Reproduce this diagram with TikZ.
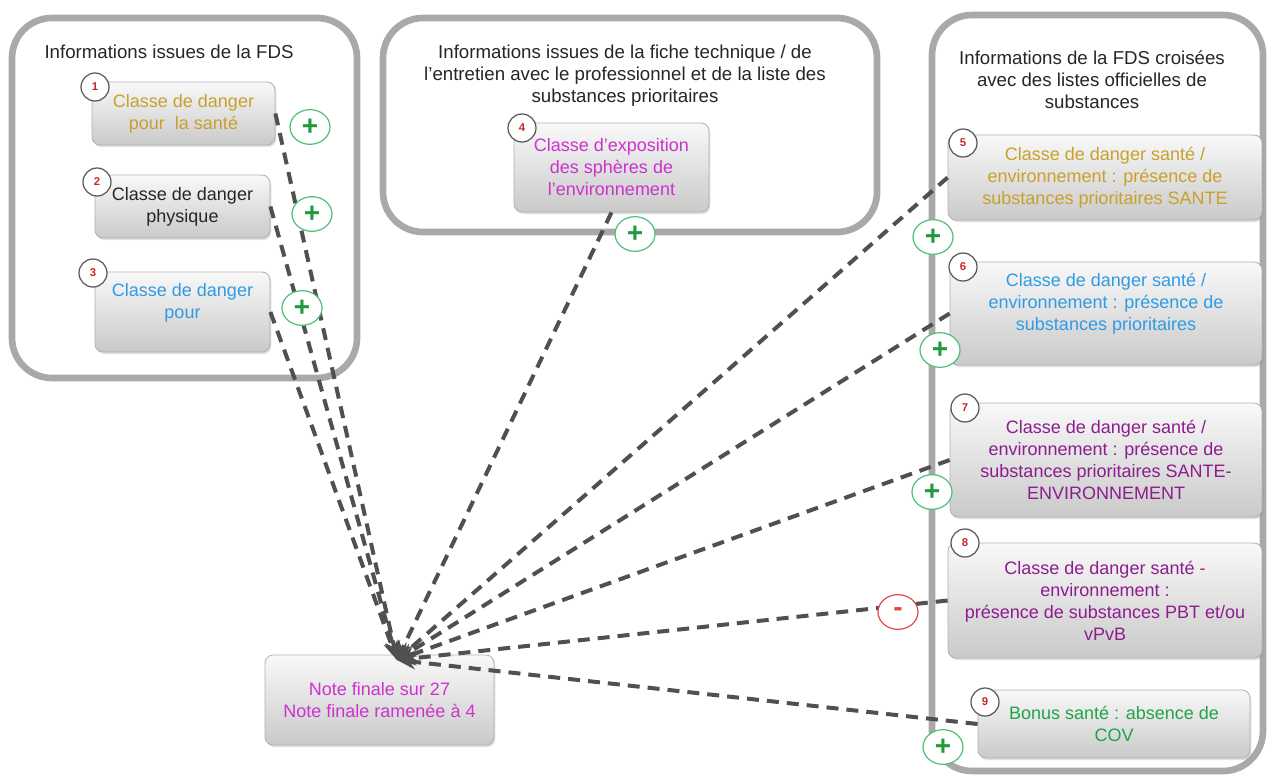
\documentclass[tikz,border=0pt]{standalone}
\usepackage{fontspec}
\setmainfont{Liberation Sans}
\usepackage{tikz}
\usetikzlibrary{arrows.meta,shapes.geometric,shadows}

\definecolor{panelgray}{HTML}{A9A9A9}
\definecolor{boxedge}{HTML}{B0B0B0}
\definecolor{linkgray}{HTML}{505050}
\definecolor{numedge}{HTML}{555555}
\definecolor{numred}{HTML}{C62828}
\definecolor{plusedge}{HTML}{4CBF7A}
\definecolor{plusgreen}{HTML}{1F9A3C}
\definecolor{minusred}{HTML}{E04848}
\definecolor{dgold}{HTML}{C8A12C}
\definecolor{dblue}{HTML}{2F9BE3}
\definecolor{dmagenta}{HTML}{CC33CC}
\definecolor{dpurple}{HTML}{8E1C8E}
\definecolor{dgreen}{HTML}{22A34A}

\tikzset{
  panel/.style={draw=panelgray, line width=5pt, rounded corners=30pt, fill=white},
  paneltitle/.style={align=center, font=\fontsize{14}{16.5}\selectfont, text=black!85},
  classbox/.style={draw=boxedge, line width=0.6pt, rounded corners=6pt, top color=gray!5, bottom color=gray!42,
    align=center, inner sep=2pt, font=\fontsize{13.5}{16.5}\selectfont,
    drop shadow={opacity=0.25, shadow xshift=1pt, shadow yshift=-1.5pt}},
  numtag/.style={circle, draw=numedge, line width=0.9pt, fill=white, minimum size=21pt, inner sep=0pt,
    font=\fontsize{8.5}{8.5}\selectfont\bfseries, text=numred},
  plustag/.style={ellipse, draw=plusedge, line width=0.9pt, fill=white, minimum width=30pt, minimum height=26pt,
    inner sep=0pt, font=\fontsize{21}{21}\selectfont\bfseries, text=plusgreen},
  minustag/.style={plustag, draw=minusred, text=minusred},
  link/.style={draw=linkgray, line width=3pt, dash pattern=on 9pt off 6pt, -{Stealth[length=14pt,width=11pt]}}
}

\begin{document}
\begin{tikzpicture}[x=0.75pt,y=0.75pt,yscale=-1,xscale=1]
\useasboundingbox (0,0) rectangle (1269,781);

% Panels
\draw [panel] (12,18) rectangle (357,378);
\draw [panel] (383,18) rectangle (877,232);
\draw [panel] (932,15) rectangle (1263,771);

% Panel titles
\node [paneltitle] (tfds) at (169,52) {Informations issues de la FDS};
\node [paneltitle] (tfiche) at (625,76) {Informations issues de la fiche technique / de\\l'entretien avec le professionnel et de la liste des\\substances prioritaires};
\node [paneltitle] (tlistes) at (1092,80) {Informations de la FDS crois\'ees\\avec des listes officielles de\\substances};

% Class boxes
\node [classbox, minimum width=137.25pt, minimum height=47.25pt, text=dgold] (b1) at (183.5,113.5) {Classe de danger\\pour\ \ la sant\'e};
\node [classbox, minimum width=131.25pt, minimum height=47.25pt, text=black!85] (b2) at (182.5,206.5) {Classe de danger\\physique};
\node [classbox, minimum width=131.25pt, minimum height=60pt, text=dblue, text depth=17pt] (b3) at (182.5,312) {Classe de danger\\pour};
\node [classbox, minimum width=146.25pt, minimum height=66.75pt, text=dmagenta] (b4) at (611.5,167.5) {Classe d'exposition\\des sph\`eres de\\l'environnement};
\node [classbox, minimum width=235.5pt, minimum height=63.75pt, text=dgold] (b5) at (1105,177.5) {Classe de danger sant\'e /\\environnement : pr\'esence de\\substances prioritaires SANTE};
\node [classbox, minimum width=234pt, minimum height=77.25pt, text=dblue, text depth=17pt] (b6) at (1106,313.5) {Classe de danger sant\'e /\\environnement : pr\'esence de\\substances prioritaires};
\node [classbox, minimum width=234pt, minimum height=85.5pt, text=dpurple] (b7) at (1106,460) {Classe de danger sant\'e /\\environnement : pr\'esence de\\substances prioritaires SANTE-\\ENVIRONNEMENT};
\node [classbox, minimum width=235.5pt, minimum height=86.25pt, text=dpurple] (b8) at (1105,600.5) {Classe de danger sant\'e -\\environnement :\\pr\'esence de substances PBT et/ou\\vPvB};
\node [classbox, minimum width=204pt, minimum height=51pt, text=dgreen] (b9) at (1114,724) {Bonus sant\'e : absence de\\COV};
\node [classbox, minimum width=171.75pt, minimum height=67.5pt, text=dmagenta] (fin) at (379.5,700) {Note finale sur 27\\Note finale ramen\'ee \`a 4};

% Links
\coordinate (hub) at (397,660);
\draw [link] (b1.east) -- (hub);
\draw [link] (b2.east) -- (hub);
\draw [link] (b3.east) -- (hub);
\draw [link] (b4.south) -- (hub);
\draw [link] (b5.west) -- (hub);
\draw [link] (b6.west) -- (hub);
\draw [link] (b7.west) -- (hub);
\draw [link] (b8.west) -- (hub);
\draw [link] (b9.west) -- (hub);

% Signs
\node [plustag] (p1) at (310,127) {+};
\node [plustag] (p2) at (312,214) {+};
\node [plustag] (p3) at (302,308) {+};
\node [plustag] (p4) at (635,234) {+};
\node [plustag] (p5) at (933,237) {+};
\node [plustag] (p6) at (940,350) {+};
\node [plustag] (p7) at (932,492) {+};
\node [minustag] (m8) at (898,612) {-};
\node [plustag] (p9) at (943,747) {+};

% Numbers
\node [numtag] (n1) at (95,87) {1};
\node [numtag] (n2) at (97,182) {2};
\node [numtag] (n3) at (93,273) {3};
\node [numtag] (n4) at (522,128) {4};
\node [numtag] (n5) at (963,143) {5};
\node [numtag] (n6) at (963,267) {6};
\node [numtag] (n7) at (965,408) {7};
\node [numtag] (n8) at (965,543) {8};
\node [numtag] (n9) at (985,702) {9};
\end{tikzpicture}
\end{document}
